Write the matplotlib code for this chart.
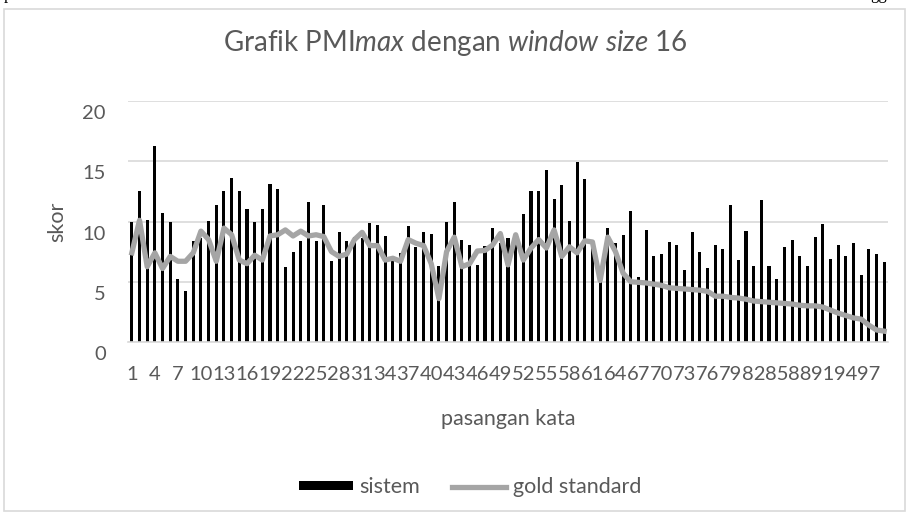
import matplotlib.pyplot as plt
import matplotlib.transforms as mtransforms
from matplotlib.patches import Patch, Rectangle
from matplotlib.lines import Line2D

#%% data
pasangan = list(range(1, 100))
sistem = [10.0, 12.5, 10.1, 16.3, 10.7, 10.0, 5.2, 4.25, 8.4, 8.6,
          10.05, 11.4, 12.5, 13.6, 12.55, 11.0, 10.0, 11.0, 13.1, 12.7,
          6.25, 7.5, 8.4, 11.6, 8.4, 11.4, 6.7, 9.1, 8.4, 8.75,
          8.6, 9.9, 9.7, 8.8, 7.1, 7.4, 9.6, 7.9, 9.1, 8.95,
          6.3, 10.0, 11.6, 8.5, 8.05, 6.4, 8.0, 9.5, 8.2, 8.6,
          9.0, 10.6, 12.55, 12.55, 14.3, 11.9, 13.05, 10.05, 14.95, 13.55,
          8.3, 5.6, 9.5, 8.2, 8.9, 10.9, 5.4, 9.3, 7.1, 7.3,
          8.3, 8.05, 6.0, 9.1, 7.5, 6.1, 8.05, 7.7, 11.4, 6.8,
          9.2, 6.3, 11.8, 6.3, 5.2, 7.9, 8.5, 7.1, 6.3, 8.7,
          9.8, 6.9, 8.05, 7.1, 8.2, 5.6, 7.7, 7.3, 6.6]
gold = [7.4, 10.1, 6.25, 7.4, 6.1, 7.1, 6.7, 6.7, 7.4, 9.2,
        8.5, 6.7, 9.45, 8.9, 6.8, 6.5, 7.2, 6.8, 8.8, 8.9,
        9.3, 8.8, 9.2, 8.8, 8.9, 8.75, 7.5, 7.1, 7.3, 8.5,
        9.1, 8.0, 8.0, 6.8, 6.95, 6.7, 8.5, 8.2, 8.0, 6.5,
        3.6, 7.5, 8.7, 6.25, 6.5, 7.55, 7.6, 8.05, 9.0, 6.4,
        8.9, 6.8, 7.8, 8.5, 7.8, 9.3, 7.1, 7.9, 7.4, 8.4,
        8.3, 5.1, 8.7, 7.5, 5.7, 5.0, 4.95, 4.9, 4.8, 4.7,
        4.5, 4.45, 4.4, 4.35, 4.3, 4.2, 3.8, 3.8, 3.7, 3.65,
        3.55, 3.4, 3.35, 3.3, 3.25, 3.2, 3.15, 3.05, 3.0, 3.0,
        2.9, 2.65, 2.4, 2.2, 2.0, 1.9, 1.4, 1.0, 0.9]
xlabels = [str(p) for p in pasangan[::3]]

#%% style
plt.rcParams['font.family'] = ['Lato', 'DejaVu Sans']
plt.rcParams['mathtext.fontset'] = 'custom'
plt.rcParams['mathtext.rm'] = 'Lato'
plt.rcParams['mathtext.it'] = 'Lato:italic'
txt = '#595959'
grid = '#d9d9d9'

fig = plt.figure(figsize=(9.09, 5.12), dpi=100)
ax = fig.add_axes([128/909, 1-342/512, 760/909, 241/512])

ax.bar(pasangan, sistem, width=0.4, color='black', zorder=2)
ax.plot(pasangan, gold, color='#a5a5a5', lw=3.8, zorder=3, solid_joinstyle='round')

ax.set_xlim(0.5, 99.5)
ax.set_ylim(0, 20)
ax.set_yticks([0, 5, 10, 15, 20])
ax.set_xticks(pasangan[::3])
ax.set_xticklabels(xlabels)
ax.tick_params(axis='both', length=0, labelsize=14.5, colors=txt)
ax.tick_params(axis='y', pad=16)
ax.tick_params(axis='x', pad=17)
ax.yaxis.grid(True, color=grid, lw=1.2, zorder=0)
ax.set_axisbelow(True)
for s in ['left', 'right', 'top']:
    ax.spines[s].set_visible(False)
ax.spines['bottom'].set_color(grid)
ax.spines['bottom'].set_linewidth(1.2)

# y labels sit a bit lower than the gridlines in the original
off = mtransforms.ScaledTranslation(0, -0.11, fig.dpi_scale_trans)
for lbl in ax.get_yticklabels():
    lbl.set_transform(lbl.get_transform() + off)

ax.set_ylabel('skor', fontsize=15.5, color=txt, labelpad=11)
ax.set_xlabel('pasangan kata', fontsize=15.5, color=txt, labelpad=19)

fig.text(455/909, 1-43/512, r'Grafik PMI$\mathit{max}$ dengan $\mathit{window\ size}$ 16',
         ha='center', va='center', fontsize=20, color=txt)

handles = [Patch(facecolor='black', edgecolor='none'),
           Line2D([], [], color='#a5a5a5', lw=3.8)]
fig.legend(handles, ['sistem', 'gold standard'], loc='center', ncol=2,
           bbox_to_anchor=(470/909, 1-487/512), frameon=False, fontsize=15.5,
           labelcolor=txt, handlelength=2.5, handleheight=0.3,
           handletextpad=0.3, columnspacing=1.5)

# chart border
fig.patches.append(Rectangle((4/909, 1/512), 901/909, 502/512, transform=fig.transFigure,
                             fill=False, edgecolor=grid, lw=1.2))
# cut-off document text above the chart
fig.text(4/909, 1+1/512, 'p', family='Liberation Serif', fontsize=12, va='baseline')
fig.text(870/909, 1+1/512, 'gg', family='Liberation Serif', fontsize=12, va='baseline')

fig.savefig('out.png', dpi=100)
